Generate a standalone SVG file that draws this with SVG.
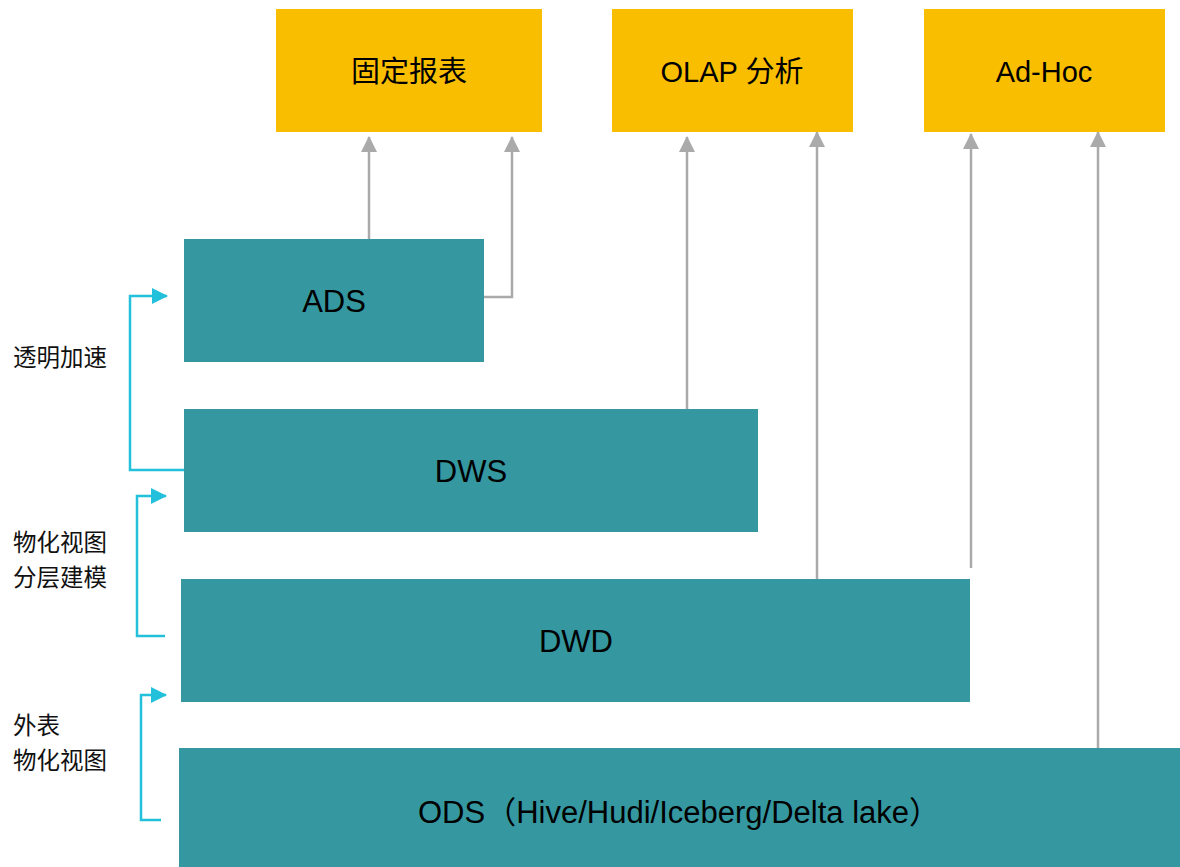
<svg xmlns="http://www.w3.org/2000/svg" width="1180" height="867" viewBox="0 0 1180 867">
  <style>
    .app { fill: #f9be00; }
    .layer { fill: #3598a0; }
    .label { font-family: "Liberation Sans", "Noto Sans CJK SC", sans-serif; font-size: 29px; fill: #000; text-anchor: middle; dominant-baseline: central; }
    .layer-label { font-size: 31px; }
    .side { font-family: "Noto Sans CJK SC", "Liberation Sans", sans-serif; font-size: 23.5px; fill: #111; }
    .flow { fill: none; stroke: #aaaaaa; stroke-width: 2.5; marker-end: url(#grey-head); }
    .accel { fill: none; stroke: #22c0da; stroke-width: 2.5; marker-end: url(#cyan-head); }
  </style>
  <defs>
    <marker id="grey-head" viewBox="0 0 16 16" refX="15" refY="8" markerWidth="16" markerHeight="16" markerUnits="userSpaceOnUse" orient="auto">
      <path d="M0,0 L16,8 L0,16 Z" fill="#aaaaaa"/>
    </marker>
    <marker id="cyan-head" viewBox="0 0 16 16" refX="15" refY="8" markerWidth="16" markerHeight="16" markerUnits="userSpaceOnUse" orient="auto">
      <path d="M0,0 L16,8 L0,16 Z" fill="#22c0da"/>
    </marker>
  </defs>

  <!-- connectors -->
  <g id="connectors">
    <path class="flow" d="M369,239 V137"/>
    <path class="flow" d="M484,297 H512 V137"/>
    <path class="flow" d="M687,409 V137"/>
    <path class="flow" d="M817,581 V132"/>
    <path class="flow" d="M971,568 V134"/>
    <path class="flow" d="M1098,748 V132"/>
    <path class="accel" d="M184,470 H130 V296 H167"/>
    <path class="accel" d="M165,636 H137 V496 H166"/>
    <path class="accel" d="M161,820 H141 V695 H166"/>
  </g>

  <!-- consumers -->
  <g id="report">
    <rect class="app" x="276" y="9" width="266" height="123"/>
    <text class="label" x="409" y="72">固定报表</text>
  </g>
  <g id="olap">
    <rect class="app" x="612" y="9" width="241" height="123"/>
    <text class="label" x="732" y="72">OLAP 分析</text>
  </g>
  <g id="adhoc">
    <rect class="app" x="924" y="9" width="241" height="123"/>
    <text class="label" x="1044" y="72">Ad-Hoc</text>
  </g>

  <!-- warehouse layers -->
  <g id="ads">
    <rect class="layer" x="184" y="239" width="300" height="123"/>
    <text class="label layer-label" x="334" y="301">ADS</text>
  </g>
  <g id="dws">
    <rect class="layer" x="184" y="409" width="574" height="123"/>
    <text class="label layer-label" x="471" y="471">DWS</text>
  </g>
  <g id="dwd">
    <rect class="layer" x="181" y="579" width="789" height="123"/>
    <text class="label layer-label" x="576" y="641">DWD</text>
  </g>
  <g id="ods">
    <rect class="layer" x="179" y="748" width="1001" height="119"/>
    <text class="label layer-label" x="679" y="812" textLength="522" lengthAdjust="spacingAndGlyphs">ODS（Hive/Hudi/Iceberg/Delta lake）</text>
  </g>

  <!-- side notes -->
  <g id="notes">
    <text class="side" x="13" y="366">透明加速</text>
    <text class="side" x="13" y="551">物化视图</text>
    <text class="side" x="13" y="586">分层建模</text>
    <text class="side" x="13" y="734">外表</text>
    <text class="side" x="13" y="769">物化视图</text>
  </g>
</svg>
